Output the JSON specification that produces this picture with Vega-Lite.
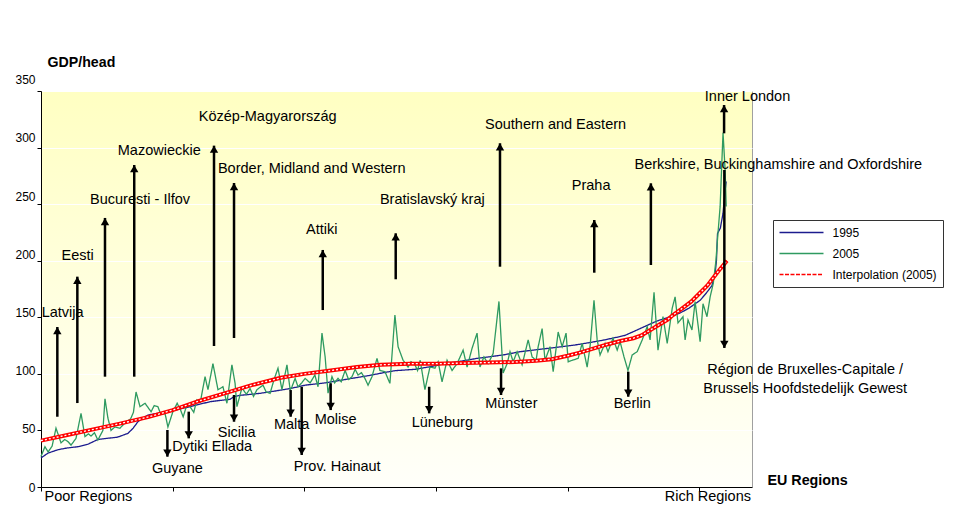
{
"$schema":"https://vega.github.io/schema/vega-lite/v6.json",
"width":711,"height":396,
"autosize":{"type":"none"},
"padding":{"left":41,"top":91,"right":203,"bottom":27},
"background":"white",
"config":{
 "font":"Liberation Sans",
 "view":{"stroke":"#a0a0a0","strokeWidth":1,"fill":{"gradient":"linear","x1":0,"y1":0,"x2":0,"y2":1,"stops":[{"offset":0,"color":"#ffffc2"},{"offset":1,"color":"#fffffa"}]}},
 "axis":{"domainColor":"black","tickColor":"black","labelColor":"black","titleColor":"black","labelFont":"Liberation Sans","titleFont":"Liberation Sans"},
 "legend":{"orient":"none","legendX":732,"legendY":129,"symbolType":"stroke","symbolSize":1936,"clipHeight":14,"rowPadding":7,"padding":5.5,"strokeColor":"#333333","fillColor":"white","labelFontSize":12,"labelOffset":8,"labelColor":"black","labelFont":"Liberation Sans"}
},
"datasets":{
"lines":[
{"s":"1995","x":0,"y":25.6},{"s":"1995","x":0.8,"y":27},{"s":"1995","x":2.7,"y":30},{"s":"1995","x":6.5,"y":33},{"s":"1995","x":10,"y":34.5},{"s":"1995","x":14,"y":35.6},{"s":"1995","x":18,"y":38},{"s":"1995","x":21.6,"y":42},{"s":"1995","x":25,"y":43},{"s":"1995","x":29,"y":44},{"s":"1995","x":33,"y":47.4},{"s":"1995","x":35,"y":52},{"s":"1995","x":36.8,"y":57.7},{"s":"1995","x":40.6,"y":63.6},{"s":"1995","x":45,"y":65.4},{"s":"1995","x":50,"y":67.5},{"s":"1995","x":56.6,"y":71},{"s":"1995","x":60,"y":73},{"s":"1995","x":64.2,"y":75.4},{"s":"1995","x":68,"y":76.5},{"s":"1995","x":71.8,"y":77.5},{"s":"1995","x":73,"y":79.5},{"s":"1995","x":75.6,"y":81},{"s":"1995","x":80,"y":82},{"s":"1995","x":83.2,"y":82.8},{"s":"1995","x":88,"y":84.5},{"s":"1995","x":94.6,"y":87},{"s":"1995","x":100.3,"y":90},{"s":"1995","x":104,"y":91},{"s":"1995","x":107.9,"y":92},{"s":"1995","x":113,"y":94},{"s":"1995","x":118,"y":96},{"s":"1995","x":122,"y":97.5},{"s":"1995","x":125.7,"y":99},{"s":"1995","x":130,"y":101},{"s":"1995","x":134.4,"y":102.8},{"s":"1995","x":142,"y":104},{"s":"1995","x":147,"y":106},{"s":"1995","x":152.7,"y":108.7},{"s":"1995","x":159,"y":111},{"s":"1995","x":165.6,"y":113.7},{"s":"1995","x":170,"y":115},{"s":"1995","x":175.5,"y":116.7},{"s":"1995","x":182,"y":119.6},{"s":"1995","x":189.5,"y":121.7},{"s":"1995","x":196,"y":123.5},{"s":"1995","x":202.8,"y":125.5},{"s":"1995","x":208,"y":127.5},{"s":"1995","x":214,"y":130},{"s":"1995","x":218,"y":132},{"s":"1995","x":221.8,"y":134},{"s":"1995","x":225.6,"y":138},{"s":"1995","x":229.4,"y":142},{"s":"1995","x":233.2,"y":146},{"s":"1995","x":235,"y":147.6},{"s":"1995","x":239,"y":150.5},{"s":"1995","x":242.7,"y":153.8},{"s":"1995","x":246,"y":158},{"s":"1995","x":250.3,"y":165},{"s":"1995","x":252.5,"y":171},{"s":"1995","x":254.8,"y":178},{"s":"1995","x":256,"y":189},{"s":"1995","x":256.5,"y":200},{"s":"1995","x":256.9,"y":224},{"s":"1995","x":258,"y":229},{"s":"1995","x":259,"y":242},{"s":"1995","x":259.8,"y":262},{"s":"1995","x":260.2,"y":270},
{"s":"2005","x":0,"y":27},{"s":"2005","x":1.5,"y":35.6},{"s":"2005","x":2.7,"y":31},{"s":"2005","x":4.2,"y":36},{"s":"2005","x":5.7,"y":52},{"s":"2005","x":7.6,"y":39},{"s":"2005","x":9,"y":42},{"s":"2005","x":10.3,"y":40},{"s":"2005","x":11.4,"y":37},{"s":"2005","x":13.3,"y":43},{"s":"2005","x":15.2,"y":65},{"s":"2005","x":16.7,"y":44.5},{"s":"2005","x":18,"y":47},{"s":"2005","x":19,"y":45},{"s":"2005","x":20.3,"y":48},{"s":"2005","x":21.6,"y":41.5},{"s":"2005","x":23.5,"y":50},{"s":"2005","x":24.3,"y":78},{"s":"2005","x":25.4,"y":61},{"s":"2005","x":26.6,"y":50},{"s":"2005","x":28,"y":53},{"s":"2005","x":30,"y":52},{"s":"2005","x":31.2,"y":55},{"s":"2005","x":32.3,"y":57.7},{"s":"2005","x":34,"y":60},{"s":"2005","x":35.1,"y":66},{"s":"2005","x":36.1,"y":84},{"s":"2005","x":37.6,"y":71},{"s":"2005","x":39.5,"y":74},{"s":"2005","x":41.8,"y":66.5},{"s":"2005","x":43,"y":72},{"s":"2005","x":44.4,"y":71},{"s":"2005","x":45.5,"y":64},{"s":"2005","x":47.1,"y":65},{"s":"2005","x":48.2,"y":53},{"s":"2005","x":50,"y":66},{"s":"2005","x":51.7,"y":74},{"s":"2005","x":53,"y":68},{"s":"2005","x":54,"y":62},{"s":"2005","x":55.3,"y":72},{"s":"2005","x":56.6,"y":71},{"s":"2005","x":58,"y":66},{"s":"2005","x":59.2,"y":77},{"s":"2005","x":60.5,"y":75},{"s":"2005","x":62.3,"y":97.5},{"s":"2005","x":63.4,"y":86},{"s":"2005","x":65.3,"y":109},{"s":"2005","x":67.2,"y":86},{"s":"2005","x":69.1,"y":88.6},{"s":"2005","x":70.6,"y":74},{"s":"2005","x":72.5,"y":108},{"s":"2005","x":73.7,"y":91.6},{"s":"2005","x":74.4,"y":71},{"s":"2005","x":76.3,"y":87.5},{"s":"2005","x":78,"y":82},{"s":"2005","x":79.4,"y":87},{"s":"2005","x":80.7,"y":80},{"s":"2005","x":82,"y":86},{"s":"2005","x":84.3,"y":90},{"s":"2005","x":85.5,"y":84},{"s":"2005","x":87,"y":82.8},{"s":"2005","x":88.5,"y":95},{"s":"2005","x":90,"y":105},{"s":"2005","x":91.5,"y":86},{"s":"2005","x":93.4,"y":108},{"s":"2005","x":94.6,"y":86},{"s":"2005","x":95.3,"y":88.6},{"s":"2005","x":96.5,"y":96},{"s":"2005","x":97.6,"y":88.6},{"s":"2005","x":99,"y":92},{"s":"2005","x":100.3,"y":96},{"s":"2005","x":102.2,"y":92},{"s":"2005","x":104,"y":99},{"s":"2005","x":105.2,"y":88.6},{"s":"2005","x":106.7,"y":136},{"s":"2005","x":107.9,"y":115},{"s":"2005","x":109,"y":83},{"s":"2005","x":110.5,"y":97.5},{"s":"2005","x":111.5,"y":92},{"s":"2005","x":112.8,"y":96},{"s":"2005","x":114,"y":93},{"s":"2005","x":115.5,"y":103},{"s":"2005","x":116.8,"y":95},{"s":"2005","x":118.1,"y":97.5},{"s":"2005","x":119.3,"y":104},{"s":"2005","x":120.4,"y":99},{"s":"2005","x":121.7,"y":101},{"s":"2005","x":123,"y":96},{"s":"2005","x":124.2,"y":90},{"s":"2005","x":125.7,"y":97.5},{"s":"2005","x":127.6,"y":113.7},{"s":"2005","x":128.7,"y":103},{"s":"2005","x":130.6,"y":102},{"s":"2005","x":132.5,"y":91.6},{"s":"2005","x":134.4,"y":152},{"s":"2005","x":135.6,"y":124},{"s":"2005","x":137.5,"y":112},{"s":"2005","x":139.4,"y":106},{"s":"2005","x":140.5,"y":110.7},{"s":"2005","x":142,"y":108},{"s":"2005","x":143,"y":103},{"s":"2005","x":144,"y":112},{"s":"2005","x":145.8,"y":86},{"s":"2005","x":147.7,"y":106},{"s":"2005","x":149.6,"y":105},{"s":"2005","x":150.8,"y":110.7},{"s":"2005","x":152.3,"y":93},{"s":"2005","x":154.2,"y":112},{"s":"2005","x":156.1,"y":103},{"s":"2005","x":158,"y":109},{"s":"2005","x":160.3,"y":121},{"s":"2005","x":161.8,"y":106},{"s":"2005","x":163.7,"y":122.6},{"s":"2005","x":165.6,"y":136},{"s":"2005","x":166.7,"y":106},{"s":"2005","x":168.2,"y":115},{"s":"2005","x":169.8,"y":109},{"s":"2005","x":171.7,"y":118},{"s":"2005","x":173.9,"y":164},{"s":"2005","x":175.5,"y":100.8},{"s":"2005","x":177,"y":109},{"s":"2005","x":178.1,"y":119.6},{"s":"2005","x":179.3,"y":110.7},{"s":"2005","x":180.8,"y":119.6},{"s":"2005","x":182.7,"y":108},{"s":"2005","x":185,"y":130},{"s":"2005","x":186.5,"y":115},{"s":"2005","x":188,"y":112},{"s":"2005","x":188.8,"y":124},{"s":"2005","x":190.3,"y":140},{"s":"2005","x":191.4,"y":112},{"s":"2005","x":193.3,"y":124},{"s":"2005","x":194.5,"y":102},{"s":"2005","x":196.4,"y":137},{"s":"2005","x":197.9,"y":124},{"s":"2005","x":199.4,"y":136},{"s":"2005","x":200.2,"y":110.7},{"s":"2005","x":201.7,"y":112},{"s":"2005","x":204,"y":113.7},{"s":"2005","x":205.5,"y":127},{"s":"2005","x":207.4,"y":106},{"s":"2005","x":208.5,"y":124},{"s":"2005","x":210,"y":165},{"s":"2005","x":211.2,"y":130},{"s":"2005","x":212.3,"y":116.7},{"s":"2005","x":214.2,"y":127},{"s":"2005","x":215.3,"y":119.6},{"s":"2005","x":217.2,"y":131.4},{"s":"2005","x":218.8,"y":121},{"s":"2005","x":219.9,"y":128.4},{"s":"2005","x":221.4,"y":115},{"s":"2005","x":222.9,"y":103},{"s":"2005","x":224.5,"y":116.7},{"s":"2005","x":226.4,"y":119.6},{"s":"2005","x":228.3,"y":130},{"s":"2005","x":230.2,"y":141.7},{"s":"2005","x":231.3,"y":130},{"s":"2005","x":232.8,"y":172},{"s":"2005","x":234.3,"y":121},{"s":"2005","x":236.2,"y":150.5},{"s":"2005","x":237.8,"y":127},{"s":"2005","x":239.7,"y":158},{"s":"2005","x":240.8,"y":168},{"s":"2005","x":241.9,"y":145},{"s":"2005","x":243.8,"y":150.5},{"s":"2005","x":244.6,"y":130},{"s":"2005","x":245.7,"y":147.6},{"s":"2005","x":247.2,"y":138.8},{"s":"2005","x":248.4,"y":163.8},{"s":"2005","x":250.3,"y":128.4},{"s":"2005","x":251.4,"y":162},{"s":"2005","x":252.9,"y":150.5},{"s":"2005","x":254.1,"y":168},{"s":"2005","x":255.3,"y":180},{"s":"2005","x":256.3,"y":200},{"s":"2005","x":257.1,"y":225},{"s":"2005","x":257.9,"y":248},{"s":"2005","x":258.6,"y":290},{"s":"2005","x":259,"y":313},{"s":"2005","x":259.8,"y":280},{"s":"2005","x":260.2,"y":248},
{"s":"Interpolation (2005)","x":0,"y":41},{"s":"Interpolation (2005)","x":10,"y":46},{"s":"Interpolation (2005)","x":22,"y":52},{"s":"Interpolation (2005)","x":30,"y":56},{"s":"Interpolation (2005)","x":41,"y":62},{"s":"Interpolation (2005)","x":50,"y":68},{"s":"Interpolation (2005)","x":60,"y":76},{"s":"Interpolation (2005)","x":70,"y":83},{"s":"Interpolation (2005)","x":80,"y":90},{"s":"Interpolation (2005)","x":91,"y":96.5},{"s":"Interpolation (2005)","x":100,"y":100},{"s":"Interpolation (2005)","x":110,"y":103},{"s":"Interpolation (2005)","x":120,"y":106},{"s":"Interpolation (2005)","x":129,"y":108},{"s":"Interpolation (2005)","x":140,"y":109},{"s":"Interpolation (2005)","x":150,"y":109},{"s":"Interpolation (2005)","x":160,"y":109.5},{"s":"Interpolation (2005)","x":170,"y":110},{"s":"Interpolation (2005)","x":180,"y":110.5},{"s":"Interpolation (2005)","x":188,"y":111.5},{"s":"Interpolation (2005)","x":194,"y":113},{"s":"Interpolation (2005)","x":200,"y":116},{"s":"Interpolation (2005)","x":205,"y":119},{"s":"Interpolation (2005)","x":210,"y":122.5},{"s":"Interpolation (2005)","x":215,"y":126},{"s":"Interpolation (2005)","x":220,"y":129},{"s":"Interpolation (2005)","x":225,"y":131.5},{"s":"Interpolation (2005)","x":228,"y":134},{"s":"Interpolation (2005)","x":233,"y":141},{"s":"Interpolation (2005)","x":238,"y":148},{"s":"Interpolation (2005)","x":240,"y":152},{"s":"Interpolation (2005)","x":243,"y":157},{"s":"Interpolation (2005)","x":247,"y":164},{"s":"Interpolation (2005)","x":250,"y":171},{"s":"Interpolation (2005)","x":253,"y":178},{"s":"Interpolation (2005)","x":255,"y":184},{"s":"Interpolation (2005)","x":258,"y":193},{"s":"Interpolation (2005)","x":260.5,"y":200}
],
"arrows":[
{"x":6.2,"y":141.4,"y2":62.1,"d":"up"},
{"x":13.8,"y":185.9,"y2":74.2,"d":"up"},
{"x":24.3,"y":237.8,"y2":97.5,"d":"up"},
{"x":35.4,"y":284.6,"y2":97.5,"d":"up"},
{"x":65.7,"y":301.7,"y2":124.6,"d":"up"},
{"x":73.3,"y":268.7,"y2":131.7,"d":"up"},
{"x":107,"y":209.5,"y2":156.4,"d":"up"},
{"x":134.7,"y":224.2,"y2":183.6,"d":"up"},
{"x":174.3,"y":303.8,"y2":194.7,"d":"up"},
{"x":210.1,"y":236,"y2":189.4,"d":"up"},
{"x":231.6,"y":268.4,"y2":196.2,"d":"up"},
{"x":259.4,"y":337.6,"y2":312.6,"d":"up"},
{"x":48,"y":26.8,"y2":50.4,"d":"down"},
{"x":56.1,"y":43,"y2":66.6,"d":"down"},
{"x":73.3,"y":57.7,"y2":81.3,"d":"down"},
{"x":94.8,"y":62.1,"y2":85.7,"d":"down"},
{"x":99,"y":28.3,"y2":88.6,"d":"down"},
{"x":110,"y":68,"y2":91.7,"d":"down"},
{"x":147.4,"y":65.1,"y2":88.6,"d":"down"},
{"x":174.7,"y":81.3,"y2":104.9,"d":"down"},
{"x":223,"y":79.8,"y2":101.9,"d":"down"},
{"x":259.5,"y":122.9,"y2":280.2,"d":"down"}
],
"labels":[
{"x":8.2,"y":154,"t":"Latvija"},
{"x":13.9,"y":204,"t":"Eesti"},
{"x":37.6,"y":253.7,"t":"Bucuresti - Ilfov"},
{"x":44.9,"y":297,"t":"Mazowieckie"},
{"x":86.1,"y":326.8,"t":"Közép-Magyarország"},
{"x":102.8,"y":281,"t":"Border, Midland and Western"},
{"x":106.6,"y":227,"t":"Attiki"},
{"x":148.6,"y":253.7,"t":"Bratislavský kraj"},
{"x":195.4,"y":320,"t":"Southern and Eastern"},
{"x":208.9,"y":266,"t":"Praha"},
{"x":280,"y":284.6,"t":"Berkshire, Buckinghamshire and Oxfordshire"},
{"x":268.3,"y":345,"t":"Inner London"},
{"x":51.8,"y":15.9,"t":"Guyane"},
{"x":65,"y":35,"t":"Dytiki Ellada"},
{"x":74.3,"y":48,"t":"Sicilia"},
{"x":95.2,"y":54.8,"t":"Malta"},
{"x":112.5,"y":17.4,"t":"Prov. Hainaut"},
{"x":111.9,"y":59.2,"t":"Molise"},
{"x":152.4,"y":56.8,"t":"Lüneburg"},
{"x":178.6,"y":73.4,"t":"Münster"},
{"x":224.5,"y":73.4,"t":"Berlin"},
{"x":290.2,"y":103.7,"t":"Région de Bruxelles-Capitale /\nBrussels Hoofdstedelijk Gewest"}
]
},
"layer":[
{
 "data":{"name":"lines"},
 "mark":{"type":"line","interpolate":"linear"},
 "encoding":{
  "x":{"field":"x","type":"quantitative","scale":{"domain":[0,270],"nice":false,"zero":false},
   "axis":{"values":[0,50,100,150,200,250],"grid":false,"tickSize":4,"labelPadding":-2,"labelFontSize":14.5,"labelOverlap":false,"labelFlush":false,
    "labelExpr":"datum.value==0?'Poor Regions':(datum.value==250?'Rich Regions':'')",
    "labelAlign":{"condition":{"test":"datum.value==0","value":"left"},"value":"center"},
    "labelOffset":{"condition":{"test":"datum.value==0","value":3},"value":8},
    "title":"EU Regions","titleX":726,"titleY":-7,"titleAlign":"left","titleBaseline":"middle","titleFontSize":14.3,"titleFontWeight":"bold"}},
  "y":{"field":"y","type":"quantitative","scale":{"domain":[0,350],"nice":false},
   "axis":{"values":[0,50,100,150,200,250,300,350],"grid":true,"gridColor":"white","gridWidth":1,"tickSize":4,"labelPadding":2,"labelFontSize":12,
    "labelOffset":{"expr":"-datum.value*0.032"},
    "title":"GDP/head","titleAngle":0,"titleAlign":"left","titleBaseline":"middle","titleX":6,"titleY":-29,"titleFontSize":14.2,"titleFontWeight":"bold"}},
  "color":{"field":"s","type":"nominal","scale":{"domain":["1995","2005","Interpolation (2005)"],"range":["#1c1c8e","#2e9a60","#ff0000"]},"legend":{"title":null}},
  "strokeDash":{"field":"s","type":"nominal","scale":{"domain":["1995","2005","Interpolation (2005)"],"range":[[1,0],[1,0],[4,1.5]]},"legend":{"title":null}},
  "strokeWidth":{"field":"s","type":"nominal","scale":{"domain":["1995","2005","Interpolation (2005)"],"range":[1.3,1.3,3]},"legend":{"title":null}}
 }
},
{
 "data":{"name":"lines"},
 "transform":[{"filter":"datum.s=='Interpolation (2005)'"}],
 "mark":{"type":"line","color":"#ff0000","strokeWidth":4},
 "encoding":{
  "x":{"field":"x","type":"quantitative","scale":{"domain":[0,270],"nice":false,"zero":false}},
  "y":{"field":"y","type":"quantitative","scale":{"domain":[0,350],"nice":false}}
 }
},
{
 "data":{"name":"lines"},
 "transform":[{"filter":"datum.s=='Interpolation (2005)'"}],
 "mark":{"type":"line","color":"white","strokeWidth":1.3,"strokeDash":[2,2]},
 "encoding":{
  "x":{"field":"x","type":"quantitative","scale":{"domain":[0,270],"nice":false,"zero":false}},
  "y":{"field":"y","type":"quantitative","scale":{"domain":[0,350],"nice":false}}
 }
},
{
 "data":{"name":"arrows"},
 "mark":{"type":"rule","color":"black","strokeWidth":2.5},
 "encoding":{
  "x":{"field":"x","type":"quantitative","scale":{"domain":[0,270],"nice":false,"zero":false}},
  "y":{"field":"y","type":"quantitative","scale":{"domain":[0,350],"nice":false}},
  "y2":{"field":"y2"}
 }
},
{
 "data":{"name":"arrows"},
 "transform":[{"filter":"datum.d=='up'"}],
 "mark":{"type":"point","shape":"triangle-up","filled":true,"color":"black","opacity":1,"size":70,"yOffset":3.6},
 "encoding":{
  "x":{"field":"x","type":"quantitative","scale":{"domain":[0,270],"nice":false,"zero":false}},
  "y":{"field":"y","type":"quantitative","scale":{"domain":[0,350],"nice":false}}
 }
},
{
 "data":{"name":"arrows"},
 "transform":[{"filter":"datum.d=='down'"}],
 "mark":{"type":"point","shape":"triangle-down","filled":true,"color":"black","opacity":1,"size":70,"yOffset":-3.6},
 "encoding":{
  "x":{"field":"x","type":"quantitative","scale":{"domain":[0,270],"nice":false,"zero":false}},
  "y":{"field":"y","type":"quantitative","scale":{"domain":[0,350],"nice":false}}
 }
},
{
 "data":{"name":"labels"},
 "mark":{"type":"text","fontSize":14.5,"font":"Liberation Sans","color":"black","align":"center","baseline":"middle","lineBreak":"\n","lineHeight":19.3},
 "encoding":{
  "x":{"field":"x","type":"quantitative","scale":{"domain":[0,270],"nice":false,"zero":false}},
  "y":{"field":"y","type":"quantitative","scale":{"domain":[0,350],"nice":false}},
  "text":{"field":"t","type":"nominal"}
 }
}
]
}
